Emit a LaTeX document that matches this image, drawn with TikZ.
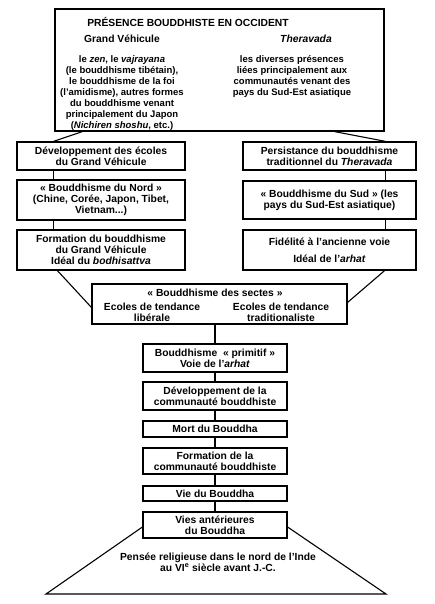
\documentclass[tikz,border=0pt]{standalone}
\usepackage{fontspec}
\setmainfont{Liberation Sans}
\usetikzlibrary{calc}
\newcommand\dgfont{\fontsize{10.3}{11.2}\selectfont\bfseries}
\newcommand\dgsmall{\fontsize{9.5}{11}\selectfont\bfseries}
\begin{document}
\begin{tikzpicture}[x=1pt,y=-1pt,
  bx/.style={draw, line width=1.2pt, inner sep=0pt, align=center, font=\dgfont},
  tx/.style={inner sep=0pt, align=center, font=\dgfont},
  txs/.style={inner sep=0pt, align=center, font=\dgsmall},
  ln/.style={line width=1.1pt}]
\useasboundingbox (0,0) rectangle (434,604);
% top box
\node[bx, minimum width=329pt, minimum height=122pt] (top) at (219.5,70) {};
\node[tx] (title) at (188,22) {PRÉSENCE BOUDDHISTE EN OCCIDENT};
\node[tx] (gv) at (122,39) {Grand Véhicule};
\node[tx] (th) at (306,39) {\textit{Theravada}};
\node[txs, anchor=north] (gvtxt) at (122,55) {le \textit{zen}, le \textit{vajrayana}\\(le bouddhisme tibétain),\\le bouddhisme de la foi\\(l'amidisme), autres formes\\du bouddhisme venant\\principalement du Japon\\(\textit{Nichiren shoshu}, etc.)};
\node[txs, anchor=north] (thtxt) at (292,55) {les diverses présences\\liées principalement aux\\communautés venant des\\pays du Sud-Est asiatique};
% left column
\node[bx, minimum width=168pt, minimum height=28pt] (L1) at (101,156) {Développement des écoles\\du Grand Véhicule};
\node[bx, minimum width=168pt, minimum height=40pt] (L2) at (101,200) {« Bouddhisme du Nord »\\(Chine, Corée, Japon, Tibet,\\Vietnam...)};
\node[bx, minimum width=168pt, minimum height=40pt] (L3) at (101,250) {Formation du bouddhisme\\du Grand Véhicule\\Idéal du \textit{bodhisattva}};
% right column
\node[bx, minimum width=173pt, minimum height=28pt] (R1) at (329.5,156) {Persistance du bouddhisme\\traditionnel du \textit{Theravada}};
\node[bx, minimum width=173pt, minimum height=38pt] (R2) at (329.5,200) {« Bouddhisme du Sud » (les\\pays du Sud-Est asiatique)};
\node[bx, minimum width=173pt, minimum height=40pt] (R3) at (329.5,250) {Fidélité à l'ancienne voie\\[6pt]Idéal de l'\textit{arhat}};
% sectes
\node[bx, minimum width=255pt, minimum height=40pt] (S) at (219.5,304) {};
\node[tx] (stitle) at (215,293) {« Bouddhisme des sectes »};
\node[tx] (slib) at (152,312) {Ecoles de tendance\\libérale};
\node[tx] (strad) at (281,312) {Ecoles de tendance\\traditionaliste};
% central column
\node[bx, minimum width=144pt, minimum height=28pt] (P) at (215,358) {Bouddhisme \ « primitif »\\Voie de l'\textit{arhat}};
\node[bx, minimum width=144pt, minimum height=28pt] (DC) at (215,396) {Développement de la\\communauté bouddhiste};
\node[bx, minimum width=144pt, minimum height=16pt] (M) at (215,429) {Mort du Bouddha};
\node[bx, minimum width=144pt, minimum height=26pt] (FC) at (215,461) {Formation de la\\communauté bouddhiste};
\node[bx, minimum width=144pt, minimum height=15pt] (VB) at (215,493.5) {Vie du Bouddha};
\node[bx, minimum width=144pt, minimum height=26pt] (VA) at (215,525) {Vies antérieures\\du Bouddha};
\node[tx] (inde) at (218,562) {Pensée religieuse dans le nord de l'Inde\\au VI\textsuperscript{e} siècle avant J.-C.};
\coordinate (bl) at (46,594);
\coordinate (br) at (386,594);
% connectors
\draw[ln] ([xshift=28pt]top.south west) -- ([xshift=37pt]L1.north west);
\draw[ln] ([xshift=37pt]L1.south west) -- ([xshift=37pt]L2.north west);
\draw[ln] ([xshift=37pt]L2.south west) -- ([xshift=37pt]L3.north west);
\draw[ln] ([xshift=-50pt]top.south east) -- ([xshift=-31pt]R1.north east);
\draw[ln] ([xshift=-31pt]R1.south east) -- ([xshift=-31pt]R2.north east);
\draw[ln] ([xshift=-31pt]R2.south east) -- ([xshift=-31pt]R3.north east);
\draw[ln] ([xshift=41pt]L3.south west) -- ([yshift=-24pt]S.north west);
\draw[ln] ([xshift=-32pt]R3.south east) -- ([yshift=-19pt]S.north east);
\draw[ln] (P.north |- S.south) -- (P.north);
\draw[ln] (P) -- (DC);
\draw[ln] (DC) -- (M);
\draw[ln] (M) -- (FC);
\draw[ln] (FC) -- (VB);
\draw[ln] (VB) -- (VA);
\draw[ln] ([yshift=-2pt]VA.west) -- (bl) -- (br) -- ([yshift=-2pt]VA.east);
\end{tikzpicture}
\end{document}
